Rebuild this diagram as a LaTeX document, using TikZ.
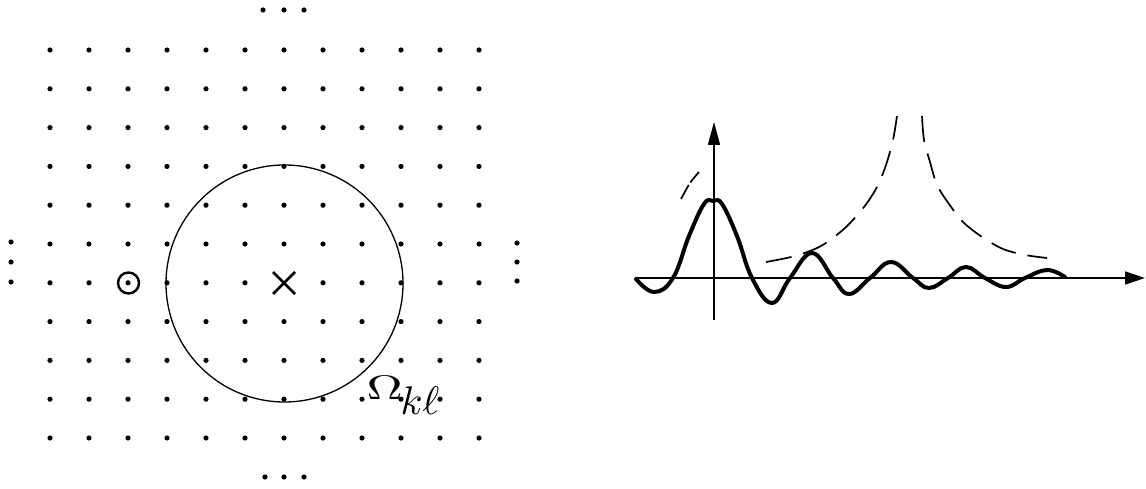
\documentclass[tikz,border=0pt]{standalone}
\usepackage{graphicx}
\usetikzlibrary{arrows.meta}
\begin{document}
\begin{tikzpicture}[x=1pt,y=-1pt,
  latdot/.style={fill=black},
  axisline/.style={line width=1.5pt,-{Triangle[length=20pt,width=13pt]}},
  wavecurve/.style={line width=4pt,line cap=round,line join=round},
  envcurve/.style={line width=1.7pt,dash pattern=on 26pt off 12pt}]
\useasboundingbox (0,0) rectangle (1146,489);
% lattice
\foreach \i in {0,...,11}{
  \foreach \j in {0,...,10}{
    \pgfmathsetmacro{\px}{50+39*\i}
    \pgfmathsetmacro{\py}{50+38.8*\j}
    \ifnum\i=6 \ifnum\j=6 \else \fill[latdot] (\px,\py) circle[radius=2.6pt]; \fi
    \else \fill[latdot] (\px,\py) circle[radius=2.6pt]; \fi
  }
}
% continuation dots
\foreach \p in {(263,10),(284,10),(304,10),(265,477),(284,477),(304,477),
                (11,242),(11,262),(11,282),(517,243),(517,262),(517,281)}
  \fill[latdot] \p circle[radius=2.6pt];
% region circle
\draw[line width=1.3pt] (284.5,283.5) circle[radius=118.5pt];
% centre cross
\draw[line width=2.6pt] (273,272) -- (295,294) (273,294) -- (295,272);
% circled site
\draw[line width=2.4pt] (128.5,283) circle[radius=10.5pt];
% label
\node[inner sep=0pt] (omega) at (403,395) {\scalebox{5}[3.4]{$\Omega$}\kern-2pt\raisebox{-15pt}{\scalebox{4}{$k\ell$}}};
% right plot: axes
\coordinate (hstart) at (636,278);
\coordinate (hend) at (1145,278);
\coordinate (vstart) at (714,320);
\coordinate (vend) at (714,122);
\draw[axisline] (hstart) -- (hend);
\draw[line width=1.5pt,-{Triangle[length=23pt,width=12pt]}] (vstart) -- (vend);
% oscillating curve
\draw[wavecurve] plot[smooth,tension=0.7] coordinates {
 (636,279) (654,292) (673,278) (689,236) (704,204) (713,201) (722,204)
 (737,236) (752,278) (772,303) (790,278) (812,253) (833,278) (849,294)
 (870,278) (891,262) (913,278) (929,288) (948,278) (966,267) (985,278)
 (1006,287) (1025,278) (1047,270) (1065,277)};
% dashed envelope
\draw[line width=1.7pt,dash pattern=on 16pt off 3pt on 14pt] plot[smooth] coordinates {(681,199) (690,183) (699,172)};
\draw[envcurve] plot[smooth] coordinates {
 (766,262) (795,256) (821,246) (845,228) (864,207) (877,187) (886,165) (893,140) (897,116)};
\draw[envcurve] plot[smooth] coordinates {
 (922,116) (924,140) (930,162) (937,185) (949,204) (963,222) (982,237) (1003,249) (1025,255) (1047,258)};
\end{tikzpicture}
\end{document}
